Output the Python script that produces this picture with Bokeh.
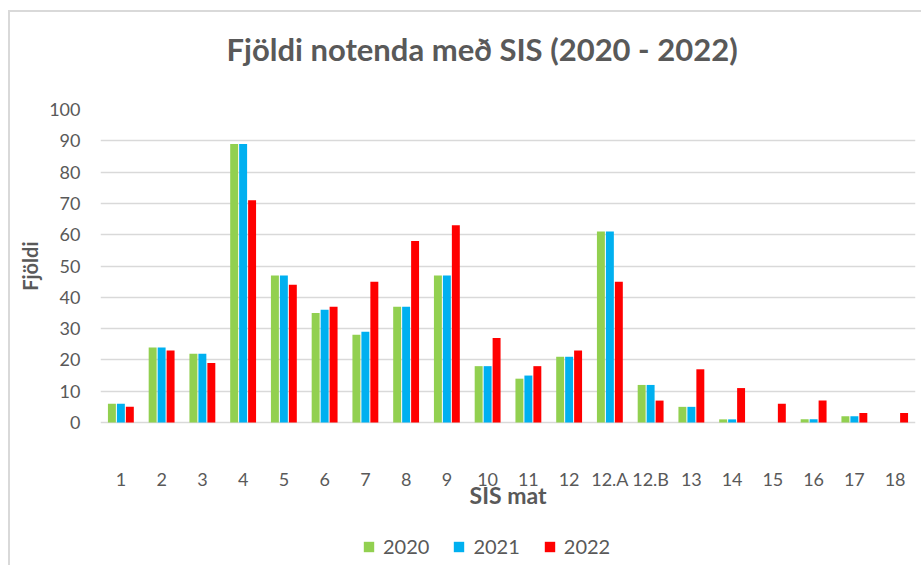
from bokeh.plotting import figure
from bokeh.models import ColumnDataSource, FactorRange, Legend, LegendItem, Title
from bokeh.transform import dodge
from bokeh.embed import file_html
from bokeh.resources import INLINE

categories = ["1", "2", "3", "4", "5", "6", "7", "8", "9", "10", "11", "12",
              "12.A", "12.B", "13", "14", "15", "16", "17", "18"]
y2020 = [6, 24, 22, 89, 47, 35, 28, 37, 47, 18, 14, 21, 61, 12, 5, 1, 0, 1, 2, 0]
y2021 = [6, 24, 22, 89, 47, 36, 29, 37, 47, 18, 15, 21, 61, 12, 5, 1, 0, 1, 2, 0]
y2022 = [5, 23, 19, 71, 44, 37, 45, 58, 63, 27, 18, 23, 45, 7, 17, 11, 6, 7, 3, 3]
years = ["2020", "2021", "2022"]
colors = ["#92d050", "#00b0f0", "#ff0000"]
y_ticks = [0, 10, 20, 30, 40, 50, 60, 70, 80, 90, 100]
title_text = "Fjöldi notenda með SIS (2020 - 2022)"

FONT = "Lato"
TXT = "#595959"

src = ColumnDataSource(dict(cat=categories, y2020=y2020, y2021=y2021, y2022=y2022))

# frame extends below zero so that axis labels and legend sit inside it
PX_PER_UNIT = 313 / 100.0
y_start = -143 / PX_PER_UNIT

p = figure(x_range=FactorRange(*categories), y_range=(y_start, 100), title=None,
           frame_width=815, frame_height=456, output_backend="svg", toolbar_location=None,
           min_border_left=79, min_border_right=6, min_border_top=97, min_border_bottom=0,
           margin=(10, 0, 0, 8),
           styles={"border-left": "2px solid #d9d9d9", "border-top": "2px solid #d9d9d9"})
p.outline_line_color = None
p.background_fill_color = "white"
p.border_fill_color = "white"

renderers = []
for key, col, off in zip(["y2020", "y2021", "y2022"], colors, [-0.22, 0.0, 0.22]):
    r = p.vbar(x=dodge("cat", off, range=p.x_range), top=key, bottom=0, width=0.195,
               source=src, fill_color=col, line_color=None)
    renderers.append(r)

# title, with a spacer between it and the plot area
spacer = Title(text=" ", text_font_size="1px", standoff=39)
p.add_layout(spacer, "above")
t = Title(text=title_text, align="left", offset=126,
          text_font=FONT, text_font_size="31px", text_font_style="bold",
          text_color=TXT, standoff=0)
p.add_layout(t, "above")

# y axis
p.yaxis.ticker = y_ticks
p.yaxis.axis_line_color = None
p.yaxis.major_tick_line_color = None
p.yaxis.minor_tick_line_color = None
p.yaxis.major_label_standoff = 14
p.yaxis.major_label_text_font = FONT
p.yaxis.major_label_text_font_size = "18px"
p.yaxis.major_label_text_color = TXT
p.yaxis.axis_label = None

ylab = Title(text="Fjöldi", align="right", offset=132,
             text_font=FONT, text_font_size="20px", text_font_style="bold",
             text_color=TXT, standoff=10)
p.add_layout(ylab, "left")

# x axis drawn at y = 0
p.xaxis.fixed_location = 0
p.xaxis.axis_line_color = None
p.xaxis.major_tick_line_color = None
p.xaxis.minor_tick_line_color = None
p.xaxis.major_label_standoff = 39
p.xaxis.major_label_text_font = FONT
p.xaxis.major_label_text_font_size = "18px"
p.xaxis.major_label_text_color = TXT
p.xaxis.axis_label = "SIS mat"
p.xaxis.axis_label_text_font = FONT
p.xaxis.axis_label_text_font_size = "23px"
p.xaxis.axis_label_text_font_style = "bold"
p.xaxis.axis_label_text_color = TXT
p.xaxis.axis_label_standoff = -12

p.xgrid.grid_line_color = None
p.ygrid.grid_line_color = "#d9d9d9"
p.ygrid.grid_line_width = 1.5

legend = Legend(items=[LegendItem(label=y, renderers=[r]) for y, r in zip(years, renderers)],
                orientation="horizontal", location=(262, 7),
                label_text_font=FONT, label_text_font_size="20px", label_text_color=TXT,
                glyph_width=13, glyph_height=13, spacing=23, label_standoff=8,
                border_line_color=None, background_fill_alpha=0, padding=4, margin=0)
p.add_layout(legend)

open("out.html", "w").write(file_html(p, INLINE))
